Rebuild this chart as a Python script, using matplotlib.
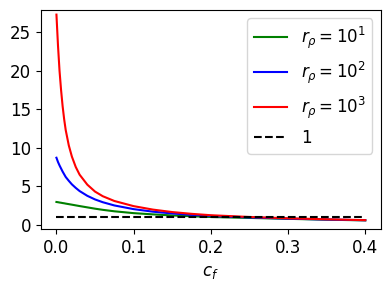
import matplotlib
matplotlib.use("Agg")
import matplotlib.pyplot as plt

c_vals = [0.0, 0.002, 0.004, 0.006, 0.008, 0.01, 0.012, 0.016, 0.02, 0.025, 0.03,
          0.04, 0.05, 0.06, 0.075, 0.1, 0.125, 0.15, 0.175, 0.2, 0.25, 0.3, 0.35, 0.4]

r1_vals = [2.95, 2.92, 2.88, 2.85, 2.81, 2.78, 2.74, 2.67, 2.6, 2.51, 2.42,
           2.25, 2.08, 1.93, 1.74, 1.5, 1.34, 1.2, 1.1, 1.0, 0.88, 0.76, 0.65, 0.56]
r2_vals = [8.7, 8.15, 7.7, 7.3, 6.9, 6.55, 6.2, 5.7, 5.24, 4.78, 4.37,
           3.75, 3.28, 2.92, 2.5, 2.02, 1.69, 1.46, 1.28, 1.14, 0.94, 0.79, 0.67, 0.58]
r3_vals = [27.3, 23.3, 20.0, 17.5, 15.4, 13.7, 12.3, 10.3, 8.85, 7.5, 6.5,
           5.2, 4.3, 3.7, 3.08, 2.41, 1.96, 1.64, 1.41, 1.23, 1.0, 0.83, 0.70, 0.59]
one_vals = [1.0] * len(c_vals)

labels = [r'$r_\rho = 10^1$', r'$r_\rho = 10^2$', r'$r_\rho = 10^3$', '1']
xticks = [0.0, 0.1, 0.2, 0.3, 0.4]
yticks = [0, 5, 10, 15, 20, 25]

fig = plt.figure(figsize=(3.9, 2.9), dpi=100)
ax = fig.add_axes([41/390, 1 - 229.3/290, (380.7 - 41)/390, (229.3 - 10)/290])

ax.plot(c_vals, r1_vals, color='green', label=labels[0])
ax.plot(c_vals, r2_vals, color='blue', label=labels[1])
ax.plot(c_vals, r3_vals, color='red', label=labels[2])
ax.plot(c_vals, one_vals, 'k--', label=labels[3])

ax.set_xlim(-0.02, 0.42)
ax.set_ylim(-0.6, 27.9)
ax.set_xticks(xticks)
ax.set_yticks(yticks)
ax.tick_params(labelsize=12)
ax.set_xlabel(r'$c_f$', fontsize=12)
ax.legend(fontsize=12, loc='upper right')

fig.savefig('out.png', dpi=100)
